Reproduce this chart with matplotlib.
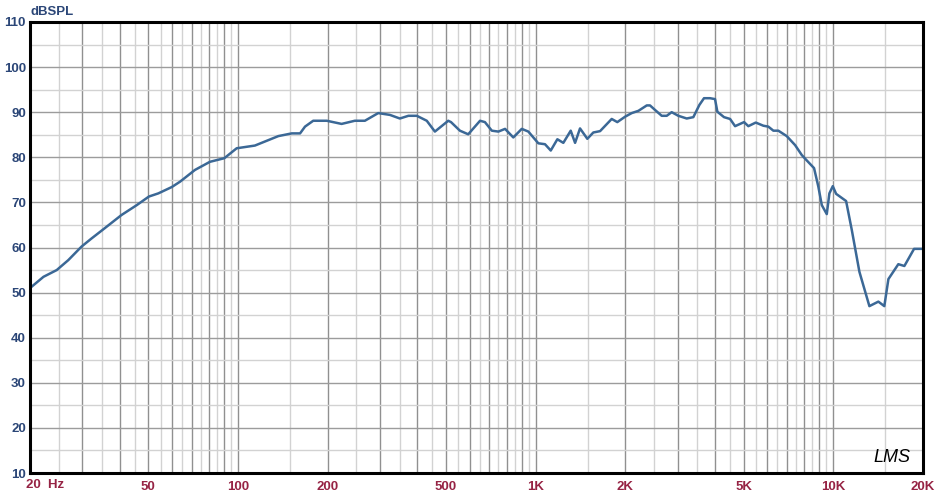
import numpy as np
import matplotlib
matplotlib.use("Agg")
import matplotlib.pyplot as plt

plt.rcParams['font.family'] = ['Liberation Sans', 'DejaVu Sans']

# frequency response (Hz, dB SPL)
freq = [20, 22.2, 24.6, 26.9, 29.8, 32.2, 35.7, 40.6, 45.7, 50.2, 54, 59.9, 63.9,
        71.7, 80.5, 90, 99, 114, 136.7, 151.6, 161.7, 168, 179, 198.8, 223, 247,
        267, 296, 324, 350, 374, 399, 431, 459, 509, 520, 557, 594, 651, 676, 713,
        750, 790, 842, 899, 946, 1022, 1076, 1125, 1184, 1240, 1313, 1358, 1411,
        1493, 1564, 1648, 1803, 1883, 2000, 2105, 2217, 2365, 2425, 2521, 2655,
        2760, 2868, 3020, 3222, 3391, 3553, 3683, 3859, 4011, 4084, 4300, 4506,
        4684, 5022, 5190, 5497, 5829, 6058, 6300, 6546, 6985, 7453, 7848, 8158,
        8630, 8921, 9163, 9523, 9718, 9977, 10236, 11059, 11556, 12260, 13243,
        14195, 14865, 15343, 16567, 17361, 18712, 20000]
spl = [51.0, 53.5, 55.0, 57.2, 60.2, 62.0, 64.3, 67.2, 69.4, 71.3, 72.0, 73.4, 74.6,
       77.2, 79.0, 79.8, 82.0, 82.6, 84.7, 85.3, 85.3, 86.8, 88.1, 88.1, 87.4, 88.1,
       88.1, 89.8, 89.4, 88.6, 89.2, 89.2, 88.1, 85.7, 88.1, 87.8, 85.9, 85.1, 88.1,
       87.8, 85.9, 85.7, 86.3, 84.4, 86.3, 85.7, 83.1, 82.9, 81.5, 84.0, 83.2, 85.9,
       83.2, 86.4, 84.1, 85.5, 85.8, 88.5, 87.8, 89.0, 89.8, 90.3, 91.5, 91.5, 90.5,
       89.2, 89.2, 90.0, 89.2, 88.6, 88.9, 91.6, 93.1, 93.1, 92.9, 90.1, 88.9, 88.5,
       86.9, 87.8, 86.9, 87.7, 87.0, 86.8, 85.9, 85.9, 84.7, 82.7, 80.5, 79.3, 77.6,
       73.5, 69.4, 67.4, 72.0, 73.6, 71.9, 70.3, 63.9, 54.6, 47.0, 48.0, 47.0, 53.0,
       56.3, 55.9, 59.7, 59.7]

xtick_pos = [50, 100, 200, 500, 1000, 2000, 5000, 10000, 20000]
xtick_lab = ["50", "100", "200", "500", "1K", "2K", "5K", "10K", "20K"]
ytick_pos = list(range(10, 111, 10))

navy = "#2b4677"
maroon = "#962344"

fig = plt.figure(figsize=(9.37, 4.95), dpi=100)
ax = fig.add_axes([0.032, 0.0444, 0.9527, 0.9112])
ax.set_xscale("log")
ax.set_xlim(20, 20000)
ax.set_ylim(10, 110)

# grid lines: dark at 1,2,...,10 of each decade, light at the halves
for dec in [10, 100, 1000, 10000]:
    for m in np.arange(1.5, 10.01, 0.5):
        f = m * dec
        if f <= 20 or f >= 20000:
            continue
        if m == int(m):
            ax.axvline(f, color="#909090", lw=1.0, zorder=1)
        else:
            ax.axvline(f, color="#d2d2d2", lw=1.0, zorder=1)
for v in range(15, 110, 5):
    ax.axhline(v, color="#9c9c9c" if v % 10 == 0 else "#d2d2d2", lw=1.0, zorder=1)

ax.plot(freq, spl, color="#3b6896", lw=1.8, zorder=3)

for s in ax.spines.values():
    s.set_linewidth(2.2)
    s.set_color("black")
    s.set_zorder(4)

ax.set_xticks(xtick_pos)
ax.set_xticklabels(xtick_lab)
ax.xaxis.set_minor_locator(matplotlib.ticker.NullLocator())
ax.set_yticks(ytick_pos)
ax.tick_params(axis="both", length=0)
ax.tick_params(axis="x", pad=6, labelcolor=maroon, labelsize=9.5)
ax.tick_params(axis="y", pad=3, labelcolor=navy, labelsize=9.5)
for t in ax.get_xticklabels() + ax.get_yticklabels():
    t.set_fontweight("bold")

fig.text(26 / 937, 1 - 485 / 495, "20  Hz", color=maroon, fontsize=9.5,
         fontweight="bold", ha="left", va="center")
fig.text(31 / 937, 1 - 12 / 495, "dBSPL", color=navy, fontsize=9.5,
         fontweight="bold", ha="left", va="center")
fig.text(892 / 937, 1 - 458 / 495, "LMS", color="black", fontsize=13,
         fontstyle="italic", fontweight="light", ha="center", va="center")

fig.savefig("out.png", dpi=100)
